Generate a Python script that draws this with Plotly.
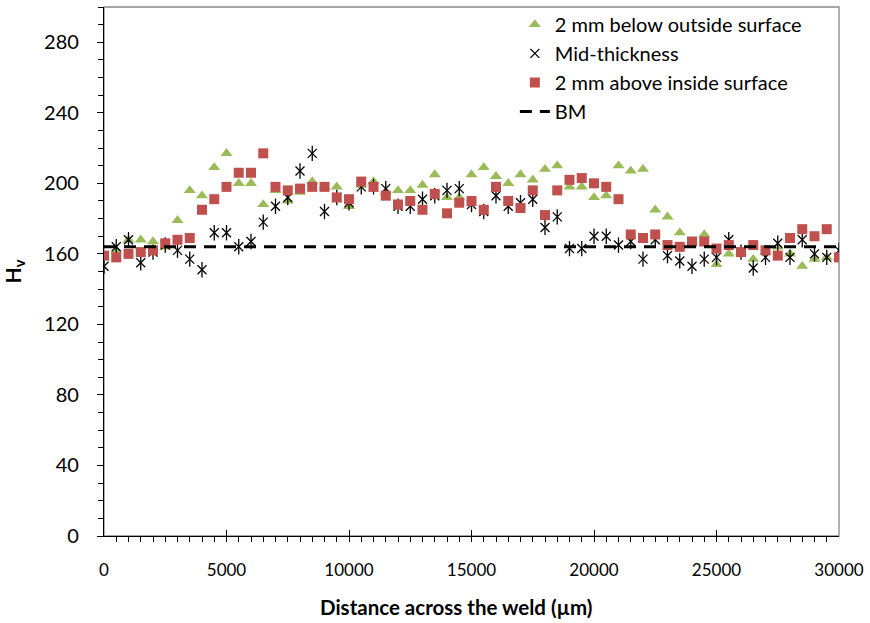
import plotly.graph_objects as go

distance_um = [0, 500, 1000, 1500, 2000, 2500, 3000, 3500, 4000, 4500,
               5000, 5500, 6000, 6500, 7000, 7500, 8000, 8500, 9000, 9500,
               10000, 10500, 11000, 11500, 12000, 12500, 13000, 13500, 14000, 14500,
               15000, 15500, 16000, 16500, 17000, 17500, 18000, 18500, 19000, 19500,
               20000, 20500, 21000, 21500, 22000, 22500, 23000, 23500, 24000, 24500,
               25000, 25500, 26000, 26500, 27000, 27500, 28000, 28500, 29000, 29500,
               30000]

hv_outside = [158, 162, 168, 168, 167, 164, 179, 196, 193, 209,
              217, 200, 200, 188, 196, 190, 195, 201, 198, 198,
              187, 199, 201, 195, 196, 196, 199, 205, 192, 192,
              205, 209, 204, 200, 205, 202, 208, 210, 198, 198,
              192, 193, 210, 207, 208, 185, 181, 172, 167, 171,
              154, 160, 161, 157, 161, 164, 160, 153, 157, 158,
              158]

hv_mid = [153, 164, 168, 155, 161, 165, 162, 157, 151, 172,
          172, 164, 167, 178, 187, 192, 207, 217, 184, 192,
          189, 198, 198, 197, 187, 187, 191, 193, 196, 197,
          188, 184, 193, 187, 189, 191, 175, 181, 163, 163,
          170, 170, 165, 167, 157, 168, 159, 156, 153, 157,
          158, 168, 161, 152, 158, 166, 158, 168, 160, 158,
          162]

hv_inside = [159, 158, 160, 161, 162, 166, 168, 169, 185, 191,
             198, 206, 206, 217, 198, 196, 197, 198, 198, 192,
             191, 201, 198, 193, 188, 190, 185, 194, 183, 189,
             190, 185, 198, 190, 186, 196, 182, 196, 202, 203,
             200, 198, 191, 171, 169, 171, 165, 164, 167, 167,
             163, 165, 161, 165, 162, 159, 169, 174, 170, 174,
             158]

bm_x = [0, 30000]
bm_y = [164, 164]

x_ticks = [0, 5000, 10000, 15000, 20000, 25000, 30000]
y_ticks = [0, 40, 80, 120, 160, 200, 240, 280]

series_names = ["2 mm below outside surface", "Mid-thickness",
                "2 mm above inside surface", "BM"]
x_title = "Distance across the weld (µm)"
y_title = "H<sub>v</sub>"

FONT = "Lato"

fig = go.Figure()

fig.add_trace(go.Scatter(
    x=distance_um, y=hv_outside, mode="markers", name=series_names[0],
    legendgroup="g1",
    marker=dict(symbol="triangle-up", size=10.5, color="#9BBB59",
                line=dict(width=0))))

fig.add_trace(go.Scatter(
    x=distance_um, y=hv_mid, mode="markers", name=series_names[1],
    legendgroup="g2",
    marker=dict(symbol="x-thin-open", size=9,
                line=dict(width=1.3, color="black"), color="black")))
fig.add_trace(go.Scatter(
    x=distance_um, y=hv_mid, mode="markers", showlegend=False,
    legendgroup="g2", hoverinfo="skip",
    marker=dict(symbol="line-ns-open", size=11,
                line=dict(width=1.3, color="black"), color="black")))

fig.add_trace(go.Scatter(
    x=distance_um, y=hv_inside, mode="markers", name=series_names[2],
    legendgroup="g3",
    marker=dict(symbol="square", size=10, color="#C0504D",
                line=dict(width=0))))

fig.add_trace(go.Scatter(
    x=bm_x, y=bm_y, mode="lines", name=series_names[3],
    legendgroup="g4",
    line=dict(color="black", width=3, dash="12px,8px")))

fig.update_layout(
    width=870, height=623,
    margin=dict(l=104, r=31, t=7, b=87, autoexpand=False),
    paper_bgcolor="white", plot_bgcolor="white",
    font=dict(family=FONT, size=20, color="black"),
    showlegend=True,
    legend=dict(x=0.559, y=1.004, xanchor="left", yanchor="top",
                bgcolor="rgba(0,0,0,0)", borderwidth=0,
                font=dict(family=FONT, size=20, color="black"),
                traceorder="grouped", tracegroupgap=0,
                itemwidth=30),
    xaxis=dict(range=[0, 30000], tickvals=x_ticks,
               ticktext=[str(v) for v in x_ticks],
               ticks="inside", ticklen=6, tickwidth=1, tickcolor="black",
               minor=dict(dtick=500, ticks="outside", ticklen=5, tickwidth=1, tickcolor="black"),
               showline=True, linecolor="black", linewidth=1.3,
               showgrid=False, zeroline=False,
               ticklabelstandoff=18,
               tickfont=dict(family=FONT, size=17)),
    yaxis=dict(range=[0, 300], tickvals=y_ticks,
               ticktext=[str(v) for v in y_ticks],
               ticks="outside", ticklen=6, tickwidth=1, tickcolor="black",
               minor=dict(dtick=10, ticks="outside", ticklen=5, tickwidth=1, tickcolor="black"),
               showline=True, linecolor="black", linewidth=1.3,
               showgrid=False, zeroline=False,
               ticklabelstandoff=14,
               tickfont=dict(family=FONT, size=20),
               title=dict(text="<b>" + y_title + "</b>",
                          font=dict(family=FONT, size=21), standoff=24)),
    annotations=[dict(text="<b>" + x_title + "</b>", xref="paper", yref="paper",
                      x=0.48, y=-0.134, xanchor="center", yanchor="middle",
                      showarrow=False, font=dict(family=FONT, size=20.5, color="black"))],
    shapes=[dict(type="rect", xref="paper", yref="paper", x0=0, x1=1, y0=0, y1=1,
                 line=dict(color="#888888", width=1.3), fillcolor="rgba(0,0,0,0)",
                 layer="below")],
)

fig.write_html("out.html")
